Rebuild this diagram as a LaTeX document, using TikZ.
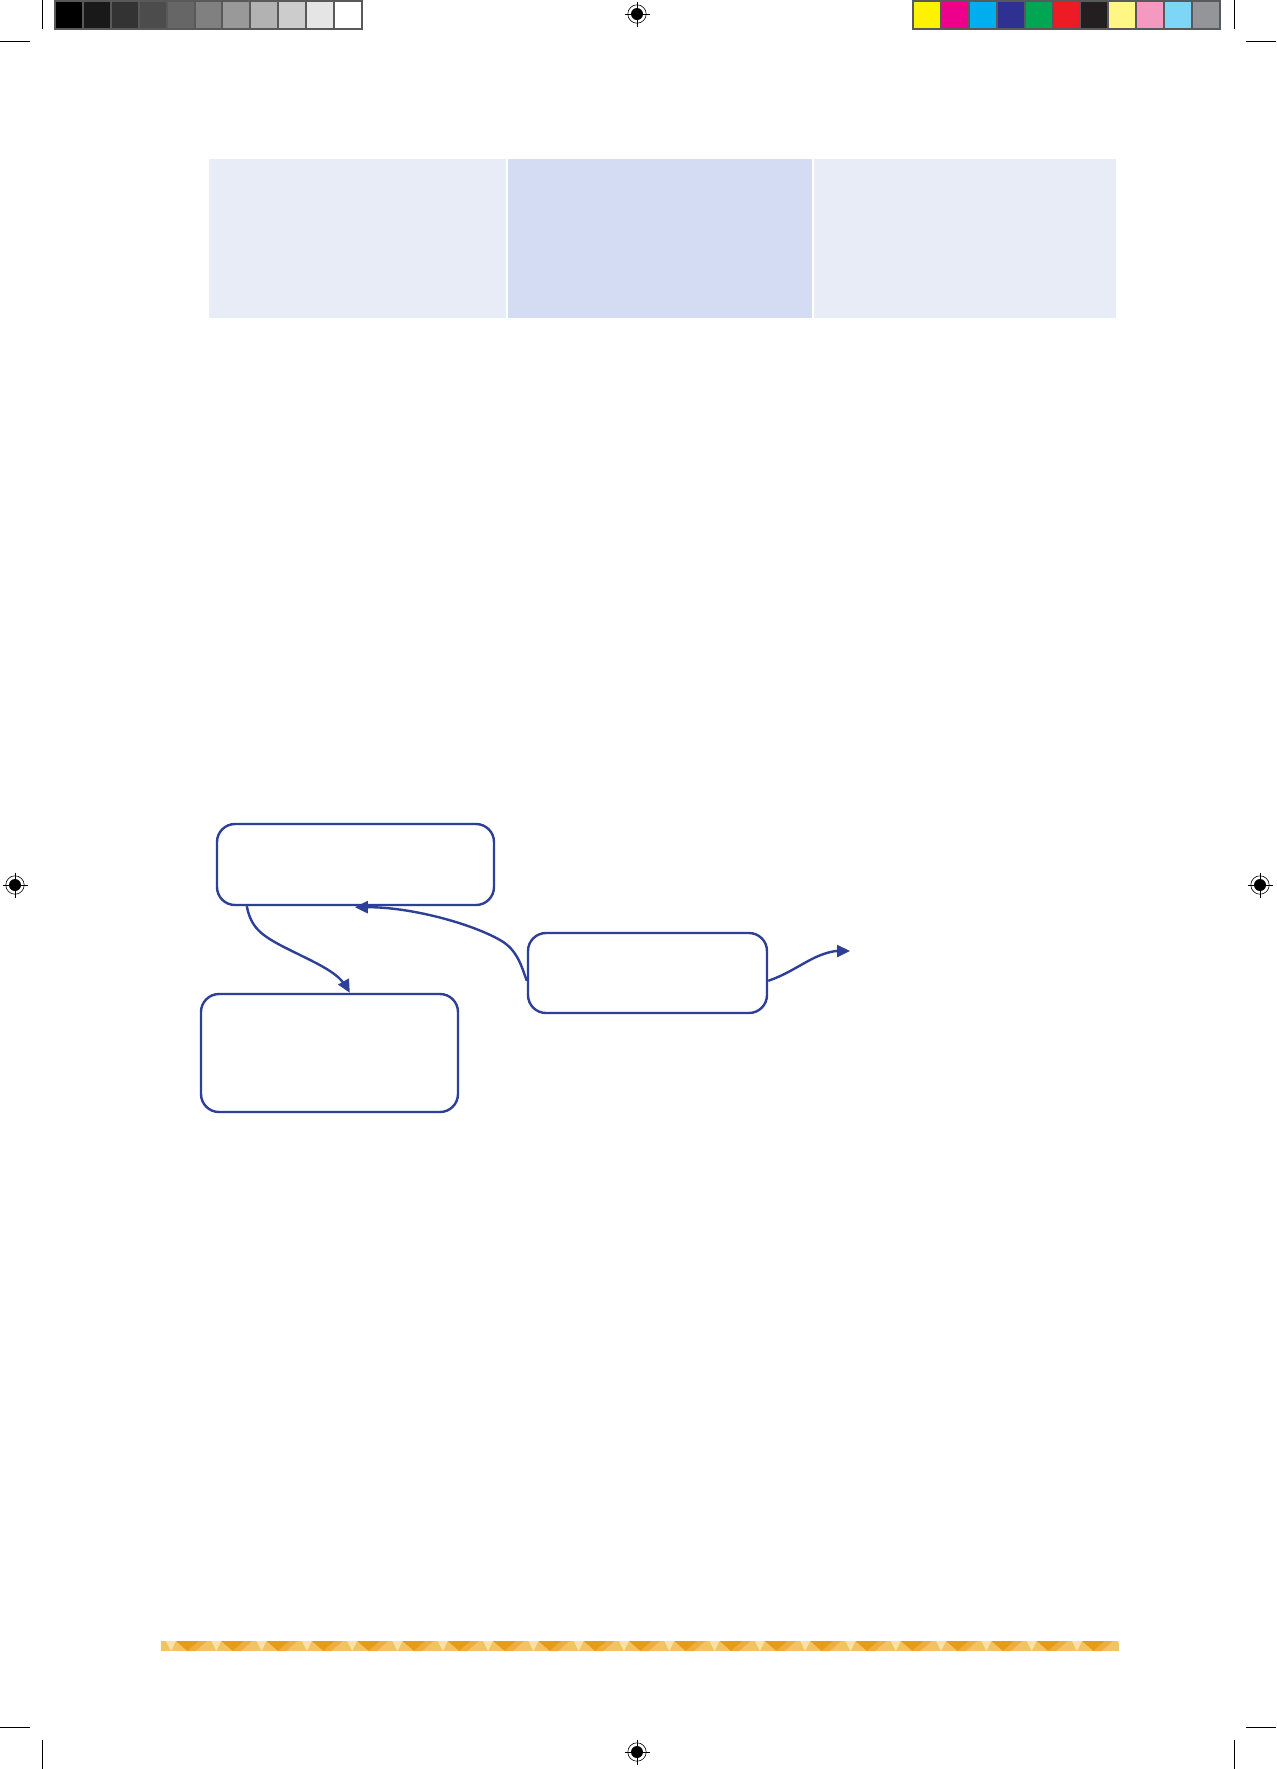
\documentclass[tikz,border=0pt]{standalone}
\usetikzlibrary{arrows.meta,calc}
\definecolor{flowblue}{HTML}{2E3F98}
\definecolor{celllight}{HTML}{E8ECF7}
\definecolor{cellmid}{HTML}{D3DCF2}
\definecolor{barframe}{HTML}{58595B}
\definecolor{cA}{HTML}{FFF200}
\definecolor{cB}{HTML}{EC008C}
\definecolor{cC}{HTML}{00AEEF}
\definecolor{cD}{HTML}{2E3192}
\definecolor{cE}{HTML}{00A651}
\definecolor{cF}{HTML}{ED1C24}
\definecolor{cG}{HTML}{231F20}
\definecolor{cH}{HTML}{FFF685}
\definecolor{cI}{HTML}{F49AC1}
\definecolor{cJ}{HTML}{7DD5F7}
\definecolor{cK}{HTML}{939598}
\definecolor{stpale}{HTML}{F9E1A9}
\definecolor{stbase}{HTML}{F1C462}
\definecolor{stdark}{HTML}{E39E13}
\definecolor{stmed}{HTML}{EBB03C}
\begin{document}
\begin{tikzpicture}[x=0.5pt,y=-0.5pt,
  flowbox/.style={draw=flowblue,line width=1.2pt,rounded corners=9pt,fill=white,inner sep=0pt},
  flowarrow/.style={draw=flowblue,line width=1.2pt,-{Triangle[length=6.5pt,width=6pt]}},
  cropline/.style={line width=0.5pt,draw=black},
  regmark/.pic={
    \draw[line width=0.3pt] (0,0) circle[radius=4.6pt];
    \fill[black] (0,0) circle[radius=3pt];
    \draw[line width=0.45pt] (-12.5,0) -- (12.5,0) (0,-12.5) -- (0,12.5);
  }]
\useasboundingbox (0,0) rectangle (1276,1769);
\fill[white] (0,0) rectangle (1276,1769);

% crop marks
\draw[cropline] (42,0) -- (42,29);
\draw[cropline] (0,41) -- (30,41);
\draw[cropline] (1234,0) -- (1234,29);
\draw[cropline] (1246,41) -- (1276,41);
\draw[cropline] (0,1727) -- (30,1727);
\draw[cropline] (42,1740) -- (42,1769);
\draw[cropline] (1246,1727) -- (1276,1727);
\draw[cropline] (1234,1740) -- (1234,1769);

% registration marks
\pic at (637,14) {regmark};
\pic at (15,885) {regmark};
\pic at (1260,885) {regmark};
\pic at (637,1752) {regmark};

% grey scale bar
\fill[barframe] (54,0) rectangle (363,30);
\foreach \c [count=\i from 0] in {black,black!90,black!80,black!70,black!60,black!50,black!40,black!30,black!20,black!10,white}
  \fill[\c] (56+27.9*\i,2) rectangle +(25.9,26);

% colour bar
\fill[barframe] (912,0) rectangle (1221,30);
\foreach \c [count=\i from 0] in {cA,cB,cC,cD,cE,cF,cG,cH,cI,cJ,cK}
  \fill[\c] (914+27.9*\i,2) rectangle +(25.9,26);

% table cells
\fill[celllight] (209,159) rectangle (506,318);
\fill[cellmid] (508,159) rectangle (812,318);
\fill[celllight] (814,159) rectangle (1116,318);

% flow boxes
\node[flowbox, minimum width=138.5pt, minimum height=40.5pt] (A) at (355.5,864.5) {};
\node[flowbox, minimum width=128.5pt, minimum height=59pt] (B) at (329.5,1053) {};
\node[flowbox, minimum width=119.5pt, minimum height=40pt] (C) at (647.5,973) {};
\coordinate (out) at (850,951);

% connectors
\draw[flowarrow] ($(A.south west)+(31,0)$) .. controls (251,928) and (262,935) .. (280,945)
   .. controls (305,958) and (330,968) .. (341,980) .. controls (346,986) .. ($(B.north west)+(150,0)$);
\draw[flowarrow] ($(C.north west)+(0,49)$) .. controls (522,968) and (518,950) .. (500,940)
   .. controls (470,923) and (410,907) .. ($(A.south west)+(139,1)$);
\draw[flowarrow] ($(C.north east)+(0,49)$) .. controls (785,975) and (795,968) .. (810,960)
   .. controls (825,952) and (835,951) .. (out);

% decorative strip
\begin{scope}
\clip (161,1641) rectangle (1119,1651);
\fill[stbase] (161,1641) rectangle (1119,1651);
\foreach \k in {-1,...,21} {
  \pgfmathsetmacro\xo{166+45.3*\k}
  \fill[stpale] (\xo,1641) -- (\xo+10,1641) -- (\xo+5,1651) -- cycle;
  \fill[stdark] (\xo+10,1641) -- (\xo+33,1641) -- (\xo+21.5,1651) -- cycle;
  \fill[stmed] (\xo+21.5,1651) -- (\xo+33,1641) -- (\xo+41,1641) -- (\xo+29.5,1651) -- cycle;
}
\end{scope}
\end{tikzpicture}
\end{document}
